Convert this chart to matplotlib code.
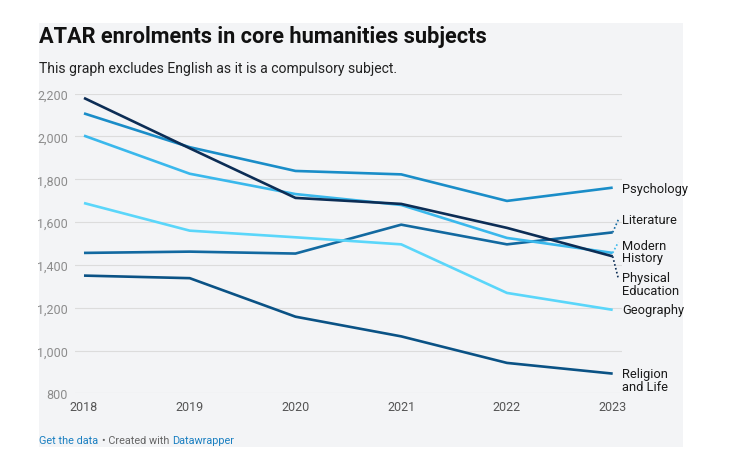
import matplotlib
matplotlib.use("Agg")
import matplotlib.pyplot as plt
from matplotlib.patches import Rectangle

plt.rcParams['font.family'] = ['Roboto', 'DejaVu Sans']

years = [2018, 2019, 2020, 2021, 2022, 2023]

psychology = [2108, 1950, 1839, 1823, 1699, 1761]
physical_education = [2180, 1945, 1713, 1685, 1573, 1440]
modern_history = [2004, 1826, 1731, 1680, 1526, 1456]
geography = [1689, 1560, 1529, 1496, 1269, 1190]
literature = [1456, 1462, 1453, 1588, 1496, 1552]
religion_and_life = [1350, 1338, 1158, 1066, 942, 892]

names = ["Psychology", "Literature", "Modern\nHistory", "Physical\nEducation", "Geography", "Religion\nand Life"]
series = [psychology, literature, modern_history, physical_education, geography, religion_and_life]
colors = ["#1a8dc8", "#1269a0", "#3ab8ec", "#0c2d55", "#5ad6fa", "#0a5285"]
# where the end labels sit (data units), and where the dotted connector ends (None = no connector)
label_y = [1758, 1611, 1462, 1311, 1190, 862]
connector_y = [None, 1611, 1506, 1337, None, None]

yticks = [800, 1000, 1200, 1400, 1600, 1800, 2000, 2200]

W, H = 737, 460
fig = plt.figure(figsize=(W / 100, H / 100), dpi=100)
fig.patch.set_facecolor("white")

# grey panel behind the whole graphic
fig.patches.append(Rectangle((39 / W, 1 - 448 / H), (683 - 39) / W, (448 - 24) / H,
                             transform=fig.transFigure, facecolor="#f3f4f6", edgecolor="none", zorder=-10))

ax = fig.add_axes([75 / W, 1 - 394.3 / H, (622 - 75) / W, (394.3 - 94.7) / H])
ax.set_zorder(1)
ax.set_facecolor("none")
ax.set_xlim(2017.915, 2023.088)
ax.set_ylim(800, 2200)
for s in ax.spines.values():
    s.set_visible(False)

ax.set_yticks(yticks)
ax.set_yticklabels(["{:,}".format(v) for v in yticks])
ax.set_xticks(years)
ax.set_xticklabels([str(y) for y in years])
ax.tick_params(axis="y", length=0, pad=5, labelsize=9, labelcolor="#8c8c8c")
ax.tick_params(axis="x", length=0, pad=5, labelsize=9, labelcolor="#555555")
for lab in ax.get_yticklabels():
    lab.set_horizontalalignment("right")
ax.grid(axis="y", color="#dcdcdc", linewidth=0.8)
ax.set_axisbelow(True)

for vals, name, col, ly, cy in zip(series, names, colors, label_y, connector_y):
    ax.plot(years, vals, color=col, linewidth=1.9, clip_on=False, zorder=3,
            solid_joinstyle="round", solid_capstyle="butt")
    ax.text(2023.091, ly, name, fontsize=9.3, color="#1a1a1a", va="center", ha="left",
            linespacing=0.95)
    if cy is not None:
        ax.plot([2023.0, 2023.053], [vals[-1], cy],
                color=col, linewidth=1.2, linestyle=(0, (1, 1.4)), clip_on=False, zorder=3)

fig.text(39 / W, 1 - 37 / H, "ATAR enrolments in core humanities subjects",
         fontsize=15.7, fontweight="bold", color="#111111", va="center", ha="left")
fig.text(39 / W, 1 - 69 / H, "This graph excludes English as it is a compulsory subject.",
         fontsize=10.1, color="#222222", va="center", ha="left")

# footer
fig.text(39 / W, 1 - 441 / H, "Get the data", fontsize=7.8, color="#1a7fc1", va="center", ha="left")
fig.text(101.5 / W, 1 - 441 / H, "\u2022 Created with", fontsize=7.8, color="#666666", va="center", ha="left")
fig.text(172.3 / W, 1 - 441 / H, "Datawrapper", fontsize=7.8, color="#1a7fc1", va="center", ha="left")

fig.savefig("out.png", dpi=100)
